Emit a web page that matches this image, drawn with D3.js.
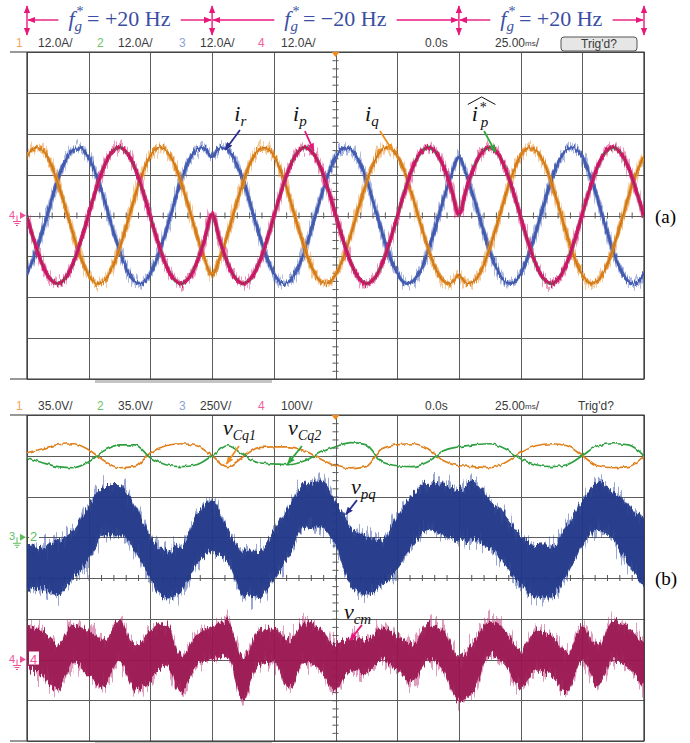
<!DOCTYPE html>
<html>
<head>
<meta charset="utf-8">
<style>
  body { margin: 0; background: #fff; }
  svg { display: block; }
  .hdr { font-family: "Liberation Sans", Arial, sans-serif; font-size: 12px; fill: #3a3a3a; }
  .math { font-family: "Liberation Serif", "DejaVu Serif", serif; }
</style>
</head>
<body>
<svg id="scope" width="690" height="743"></svg>
<script src="https://d3js.org/d3.v7.min.js"></script>
<script>

// ---- data read off the scope screens ----
// panel (a): samples every 1/8 div (3.125 ms), currents in A
var tA = d3.range(81).map(function(i) { return i * 3.125; });

var iq = [17.5,19.9,19.2,15.6,9.6,2.2,-5.6,-12.5,-17.5,-19.9,-19.2,-15.6,-9.6,-2.2,5.6,12.5,
  17.5,19.9,19.2,15.6,9.6,2.2,-5.6,-12.5,-17.5,
  -12.5,-5.6,2.2,9.6,15.6,19.2,19.9,17.5,
  12.5,5.6,-2.2,-9.6,-15.6,-19.2,-19.9,-17.5,
  -12.5,-5.6,2.2,9.6,15.6,19.2,19.9,17.5,
  12.5,5.6,-2.2,-9.6,-15.6,-19.2,-19.9,-17.5,
  -19.9,-19.2,-15.6,-9.6,-2.2,5.6,12.5,
  17.5,19.9,19.2,15.6,9.6,2.2,-5.6,-12.5,-17.5,-19.9,-19.2,-15.6,-9.6,-2.2,5.6,12.5,
  17.5];

var ir = [-17.1,-11.8,-4.7,3.1,10.4,16.1,19.4,19.8,17.1,11.8,4.7,-3.1,-10.4,-16.1,-19.4,-19.8,
  -17.1,-11.8,-4.7,3.1,10.4,16.1,19.4,19.8,17.1,
  19.8,19.4,16.1,10.4,3.1,-4.7,-11.8,-17.1,
  -19.8,-19.4,-16.1,-10.4,-3.1,4.7,11.8,17.1,
  19.8,19.4,16.1,10.4,3.1,-4.7,-11.8,-17.1,
  -19.8,-19.4,-16.1,-10.4,-3.1,4.7,11.8,17.1,
  11.8,4.7,-3.1,-10.4,-16.1,-19.4,-19.8,
  -17.1,-11.8,-4.7,3.1,10.4,16.1,19.4,19.8,17.1,11.8,4.7,-3.1,-10.4,-16.1,-19.4,-19.8,
  -17.1];

var ip = [-0.4,-8.0,-14.4,-18.6,-20.0,-18.3,-13.9,-7.3,0.4,8.0,14.4,18.6,20.0,18.3,13.9,7.3,
  -0.4,-8.0,-14.4,-18.6,-20.0,-18.3,-13.9,-7.3,0.4,
  -7.3,-13.9,-18.3,-20.0,-18.6,-14.4,-8.0,-0.4,
  7.3,13.9,18.3,20.0,18.6,14.4,8.0,0.4,
  -7.3,-13.9,-18.3,-20.0,-18.6,-14.4,-8.0,-0.4,
  7.3,13.9,18.3,20.0,18.6,14.4,8.0,0.4,
  8.0,14.4,18.6,20.0,18.3,13.9,7.3,
  -0.4,-8.0,-14.4,-18.6,-20.0,-18.3,-13.9,-7.3,0.4,8.0,14.4,18.6,20.0,18.3,13.9,7.3,
  -0.4];

// panel (b): samples every 1/4 div (6.25 ms)
var tB = d3.range(41).map(function(i) { return i * 6.25; });

// capacitor voltage ripple, V (35 V/div)
var vCq1 = [2.6,6.0,9.4,10.3,5.2,-4.3,-10.3,-9.4,2.6,8.6,10.3,8.6,0,-9.4,-1,6.9,7.7,7.7,4.3,-2.6,
  -8.6,-11.2,-9.4,6.0,9.4,10.3,6.0,-4.3,-8.6,-9.4,-10.3,-6.0,2.6,8.6,10.3,8.6,0,-8.6,-10.3,-9.4,0];
var vCq2 = [-1.7,-6.0,-9.4,-10.3,-5.2,4.3,9.4,9.4,-1.7,-7.7,-9.4,-7.7,0,8.6,1,-6.0,-6.9,-7.7,-4.3,2.6,
  7.7,11.2,9.4,-5.2,-8.6,-9.4,-5.2,4.3,7.7,9.4,10.3,6.0,-2.6,-7.7,-9.4,-7.7,0,8.6,10.3,9.4,0];

// v_pq band (upper / lower edge), V (250 V/div)
var vpqHi = [-60,-50,-20,45,195,320,320,195,10,-80,-50,135,225,60,-80,-90,45,195,335,350,
  225,60,10,-20,135,260,335,330,290,335,225,135,10,-50,-50,75,225,335,290,195,105];
var vpqLo = [-315,-325,-355,-250,-140,10,10,-80,-265,-375,-335,-170,-90,-155,-355,-370,-265,-110,60,60,
  -50,-295,-355,-295,-200,-50,45,10,-20,-20,-65,-170,-295,-370,-370,-235,-50,45,-20,-170,-295];

// v_cm band (upper / lower edge), V (100 V/div)
var vcmHi = [83,71,39,83,71,47,96,34,71,91,10,59,83,96,5,71,76,47,91,76,
  39,54,47,79,59,39,88,71,5,47,96,71,22,71,59,15,79,34,96,76,39];
var vcmLo = [-22,-39,-76,-7,-39,-64,-2,-76,-52,-15,-83,-15,2,10,-101,-15,-7,-69,-7,-27,
  -76,-27,-32,-2,-27,-59,-2,-27,-101,-76,15,-15,-69,-27,-39,-83,-2,-64,-2,-22,-69];

// scope settings / labels
var chanA = ["12.0A/", "12.0A/", "12.0A/", "12.0A/"];
var chanB = ["35.0V/", "35.0V/", "250V/", "100V/"];
var segEdges = [0, 75, 175, 250];       // ms, frequency reversal instants
var segFreq = ["+20", "\u221220", "+20"];

// ---- layout ----
var svg = d3.select("#scope"),
    plotL = 27, plotR = 644,
    aTop = 52, aBot = 379,
    bTop = 415, bBot = 741;

var xA = d3.scaleLinear().domain([0, 250]).range([plotL, plotR]);
var yA = d3.scaleLinear().domain([-48, 48]).range([aBot, aTop]);   // 12 A/div
var yB = d3.scaleLinear().domain([-4, 4]).range([bBot, bTop]);     // divisions

var defs = svg.append("defs");

// vertical-only jitter, gives the scope traces their noisy look
function noiseFilter(id, freq, scale, seed) {
  var f = defs.append("filter").attr("id", id)
      .attr("x", "-2%").attr("y", "-40%").attr("width", "104%").attr("height", "180%")
      .attr("color-interpolation-filters", "sRGB");
  f.append("feTurbulence").attr("type", "fractalNoise").attr("baseFrequency", freq)
      .attr("numOctaves", 2).attr("seed", seed).attr("result", "t");
  f.append("feColorMatrix").attr("in", "t").attr("type", "matrix")
      .attr("values", "0 0 0 0 0.5  0 1 0 0 0  0 0 0 0 0  0 0 0 0 1").attr("result", "m");
  f.append("feDisplacementMap").attr("in", "SourceGraphic").attr("in2", "m").attr("scale", scale)
      .attr("xChannelSelector", "R").attr("yChannelSelector", "G");
}
noiseFilter("nzWide", "0.7 0.03", 24, 3);
noiseFilter("nzThin", "0.9 0.05", 9, 7);
noiseFilter("nzStep", "0.25 0.05", 4, 11);
noiseFilter("nzBand", "0.45 0.02", 44, 5);
noiseFilter("nzCore", "0.5 0.03", 16, 9);

function arrowMarker(id, color, size) {
  defs.append("marker").attr("id", id).attr("viewBox", "0 0 10 10")
      .attr("refX", 9).attr("refY", 5).attr("markerWidth", size).attr("markerHeight", size)
      .attr("markerUnits", "userSpaceOnUse").attr("orient", "auto-start-reverse")
    .append("path").attr("d", "M0,1 L10,5 L0,9 Z").attr("fill", color);
}
var MAG = "#e8177c", NAVY = "#2a2f8f", ORG = "#ee8f1f", GRN = "#2ea63c";
arrowMarker("amag", MAG, 8);
arrowMarker("anavy", NAVY, 8);
arrowMarker("aorg", ORG, 8);
arrowMarker("agrn", GRN, 8);

defs.append("clipPath").attr("id", "clipA").append("rect")
    .attr("x", plotL).attr("y", aTop).attr("width", plotR - plotL).attr("height", aBot - aTop);
defs.append("clipPath").attr("id", "clipB").append("rect")
    .attr("x", plotL).attr("y", bTop).attr("width", plotR - plotL).attr("height", bBot - bTop);

// ---- screen frame + grid ----
function screen(top, bot, y) {
  var g = svg.append("g");
  var divsX = d3.range(0, 251, 25);
  g.append("g").attr("transform", "translate(0," + bot + ")")
      .call(d3.axisBottom(xA).tickValues(divsX).tickSize(-(bot - top)).tickFormat(""))
      .call(function(s) { s.select(".domain").remove(); })
      .selectAll("line").attr("stroke", "#5c5c5c").attr("shape-rendering", "crispEdges");
  g.append("g").attr("transform", "translate(" + plotL + ",0)")
      .call(d3.axisLeft(y).tickValues(d3.range(y.domain()[0], y.domain()[1] + 0.001, (y.domain()[1] - y.domain()[0]) / 8))
        .tickSize(-(plotR - plotL)).tickFormat(""))
      .call(function(s) { s.select(".domain").remove(); })
      .selectAll("line").attr("stroke", "#5c5c5c").attr("shape-rendering", "crispEdges");

  // minor ticks on the centre lines
  var yc = (top + bot) / 2, xc = xA(125);
  [d3.axisBottom, d3.axisTop].forEach(function(ax) {
    g.append("g").attr("transform", "translate(0," + yc + ")")
        .call(ax(xA).tickValues(d3.range(0, 250.1, 5)).tickSize(3).tickFormat(""))
        .call(function(s) { s.select(".domain").remove(); })
        .selectAll("line").attr("stroke", "#555");
  });
  var step = (y.domain()[1] - y.domain()[0]) / 40;
  [d3.axisLeft, d3.axisRight].forEach(function(ax) {
    g.append("g").attr("transform", "translate(" + xc + ",0)")
        .call(ax(y).tickValues(d3.range(y.domain()[0], y.domain()[1] + 0.001, step)).tickSize(3).tickFormat(""))
        .call(function(s) { s.select(".domain").remove(); })
        .selectAll("line").attr("stroke", "#555");
  });

  // outer frame
  g.append("path").attr("fill", "none").attr("stroke", "#333").attr("stroke-width", 1.2)
      .attr("d", "M10," + top + "H" + plotR + "V" + bot + "H10M" + plotL + "," + top + "V" + bot);
  g.append("rect").attr("x", 95).attr("y", bot + 1).attr("width", 177).attr("height", 3).attr("fill", "#c4c4c4");
  // trigger marker
  g.append("path").attr("fill", "#f08a1c")
      .attr("d", "M" + (xc - 4) + "," + top + "h8l-4,5z");
}
screen(aTop, aBot, yA);
screen(bTop, bBot, yB);

// ---- header lines ----
var chanColors = ["#f4a65a", "#6cc46c", "#8f9fd6", "#f0609f"],
    numX = [16, 97, 179, 258], unitX = [38, 118, 200, 281];

function header(base, units, button) {
  var g = svg.append("g").attr("class", "hdr");
  units.forEach(function(u, k) {
    g.append("text").attr("x", numX[k]).attr("y", base).style("fill", chanColors[k]).text(k + 1);
    g.append("text").attr("x", unitX[k]).attr("y", base).text(u);
  });
  g.append("text").attr("x", 425).attr("y", base).text("0.0s");
  var tb = g.append("text").attr("x", 495).attr("y", base);
  tb.append("tspan").text("25.00");
  tb.append("tspan").style("font-size", "8px").attr("dy", -1).text("ms");
  tb.append("tspan").attr("dy", 1).text("/");
  if (button) {
    g.append("rect").attr("x", 561).attr("y", base - 10).attr("width", 76).attr("height", 14).attr("rx", 3)
        .attr("fill", "#e6e6e6").attr("stroke", "#555");
    g.append("text").attr("x", 599).attr("y", base + 1).attr("text-anchor", "middle").text("Trig'd?");
  } else {
    g.append("text").attr("x", 578).attr("y", base).text("Trig'd?");
  }
}
header(47, chanA, true);
header(410, chanB, false);

// ---- frequency annotation on top ----
var annot = svg.append("g");
segFreq.forEach(function(f, k) {
  var x0 = xA(segEdges[k]), x1 = xA(segEdges[k + 1]);
  var t = annot.append("text").attr("class", "math").attr("y", 26).attr("fill", "#3a4ea3").style("font-size", "22px");
  t.append("tspan").attr("font-style", "italic").text("f");
  t.append("tspan").attr("dy", -10).attr("dx", 2).style("font-size", "14px").text("*");
  t.append("tspan").attr("dy", 15).attr("dx", -9).attr("font-style", "italic").style("font-size", "15px").text("g");
  t.append("tspan").attr("dy", -5).attr("dx", 5).text("= " + f + " Hz");
  var w = t.node().getBBox().width;
  var tx = (x0 + x1) / 2 - w / 2;
  t.attr("x", tx);
  annot.append("line").attr("x1", tx - 10).attr("x2", x0 + 1).attr("y1", 20).attr("y2", 20)
      .attr("stroke", MAG).attr("stroke-width", 1.4).attr("marker-end", "url(#amag)");
  annot.append("line").attr("x1", tx + w + 10).attr("x2", x1 - 1).attr("y1", 20).attr("y2", 20)
      .attr("stroke", MAG).attr("stroke-width", 1.4).attr("marker-end", "url(#amag)");
});
segEdges.forEach(function(e) {
  annot.append("line").attr("x1", xA(e)).attr("x2", xA(e)).attr("y1", 6).attr("y2", 35)
      .attr("stroke", MAG).attr("stroke-width", 1.4)
      .attr("marker-start", "url(#amag)").attr("marker-end", "url(#amag)");
});

// ---- panel (a) traces ----
var plotA = svg.append("g").attr("clip-path", "url(#clipA)");
var lineA = d3.line().x(function(d, i) { return xA(tA[i]); }).y(function(d) { return yA(d); })
    .curve(d3.curveCatmullRom);

function currentTrace(data, color, core) {
  var g = plotA.append("g");
  g.append("path").datum(data).attr("d", lineA).attr("fill", "none").attr("stroke", color)
      .attr("stroke-width", 5).attr("stroke-opacity", 0.45).attr("filter", "url(#nzWide)");
  g.append("path").datum(data).attr("d", lineA).attr("fill", "none").attr("stroke", color)
      .attr("stroke-width", 3.4).attr("filter", "url(#nzThin)");
  g.append("path").datum(data).attr("d", lineA).attr("fill", "none").attr("stroke", core)
      .attr("stroke-width", 0.8).attr("stroke-opacity", 0.5);
}
currentTrace(ir, "#4a63b8", "#2d3d82");
currentTrace(iq, "#e38a24", "#8a4e10");
// reference i_p* lies under the measured i_p
plotA.append("path").datum(ip).attr("d", lineA).attr("fill", "none").attr("stroke", GRN).attr("stroke-width", 3.6);
currentTrace(ip, "#dc1a72", "#6e0c38");

// ---- panel (b) traces ----
var plotB = svg.append("g").attr("clip-path", "url(#clipB)");

function stepLine(data, color, offset, perDiv) {
  var line = d3.line().x(function(d, i) { return xA(tB[i]); })
      .y(function(d) { return yB(offset + d / perDiv); }).curve(d3.curveMonotoneX);
  plotB.append("path").datum(data).attr("d", line).attr("fill", "none").attr("stroke", color)
      .attr("stroke-width", 1.7).attr("filter", "url(#nzStep)");
}
stepLine(vCq1, "#e0801c", 3, 35);
stepLine(vCq2, "#2ea040", 3, 35);

function band(hi, lo, color, light, offset, perDiv) {
  var area = d3.area().x(function(d, i) { return xA(tB[i]); })
      .y0(function(d, i) { return yB(offset + lo[i] / perDiv); })
      .y1(function(d, i) { return yB(offset + hi[i] / perDiv); })
      .curve(d3.curveMonotoneX);
  plotB.append("path").datum(tB).attr("d", area).attr("fill", light)
      .attr("fill-opacity", 0.5).attr("filter", "url(#nzBand)");
  plotB.append("path").datum(tB).attr("d", area).attr("fill", color)
      .attr("fill-opacity", 0.92).attr("filter", "url(#nzCore)");
}
band(vpqHi, vpqLo, "#1f3688", "#3550a8", 1, 250);
band(vcmHi, vcmLo, "#98134f", "#c23a7a", -2, 100);

// ---- ground markers ----
function groundMark(y, num, color, inner) {
  var g = svg.append("g");
  g.append("text").attr("x", 9).attr("y", y + 3).attr("fill", color)
      .style("font", "11px 'Liberation Sans', sans-serif").text(num);
  g.append("path").attr("fill", "none").attr("stroke", color).attr("stroke-width", 1)
      .attr("d", "M17," + y + "V" + (y + 6) + "M13," + (y + 6) + "H21M14.5," + (y + 8) + "H19.5M16," + (y + 10) + "H18");
  g.append("path").attr("fill", color).attr("d", "M20," + (y - 3.5) + "L26," + y + "L20," + (y + 3.5) + "Z");
  if (inner) {
    g.append("rect").attr("x", 29).attr("y", y - 8).attr("width", 10).attr("height", 13).attr("fill", "#fff");
    g.append("text").attr("x", 30).attr("y", y + 4).attr("fill", color)
        .style("font", "13px 'Liberation Sans', sans-serif").text(inner);
  }
}
groundMark(yA(0), "4", "#f0509a", null);
groundMark(yB(1), "3", "#5cbf5c", "2");
groundMark(yB(-2), "4", "#f0509a", "4");

// ---- trace labels ----
function mathLabel(x, y, main, sub, sup) {
  var t = svg.append("text").attr("class", "math").attr("x", x).attr("y", y).attr("fill", "#111")
      .style("font-size", "22px");
  t.append("tspan").attr("font-style", "italic").text(main);
  if (sup) t.append("tspan").attr("dy", -9).attr("dx", 2).style("font-size", "14px").text(sup);
  t.append("tspan").attr("font-style", "italic").attr("dy", sup ? 15 : 5).attr("dx", sup ? -6 : 0)
      .style("font-size", "15px").text(sub);
  return t;
}
function pointer(t0, v0, t1, v1, ys, color, marker) {
  svg.append("line").attr("x1", xA(t0)).attr("y1", ys(v0)).attr("x2", xA(t1)).attr("y2", ys(v1))
      .attr("stroke", color).attr("stroke-width", 1.8).attr("marker-end", "url(#" + marker + ")");
}

mathLabel(xA(84), yA(27.8), "i", "r");
pointer(86.3, 25.1, 80.4, 19.3, yA, NAVY, "anavy");
mathLabel(xA(107.8), yA(27.8), "i", "p");
pointer(112.6, 24.8, 116.2, 19.0, yA, MAG, "amag");
mathLabel(xA(137), yA(27.8), "i", "q");
pointer(143, 24.8, 148.2, 19.0, yA, ORG, "aorg");
mathLabel(xA(180.2), yA(27.8), "i", "p", "*");
svg.append("path").attr("fill", "none").attr("stroke", "#111").attr("stroke-width", 1)
    .attr("d", "M" + xA(178.6) + "," + yA(32.6) + "L" + xA(184.2) + "," + yA(34.8) + "L" + xA(189.8) + "," + yA(32.6));
pointer(185.2, 24.8, 189.8, 18.6, yA, GRN, "agrn");

var lbl = mathLabel(xA(79.4), yB(3.51), "v", "Cq1");
lbl.select("tspan:last-child").style("font-size", "14px");
pointer(85.9, 3.24, 80.8, 2.80, yB, ORG, "aorg");
lbl = mathLabel(xA(105.8), yB(3.51), "v", "Cq2");
lbl.select("tspan:last-child").style("font-size", "14px");
pointer(111.4, 3.24, 105.6, 2.80, yB, GRN, "agrn");
mathLabel(xA(131.3), yB(2.07), "v", "pq");
pointer(133.7, 1.91, 129.2, 1.56, yB, NAVY, "anavy");
mathLabel(xA(128.4), yB(-1.0), "v", "cm");
pointer(135.7, -1.15, 130.9, -1.53, yB, MAG, "amag");

// ---- panel tags ----
svg.append("text").attr("class", "math").attr("x", 655).attr("y", yA(0) + 7).style("font-size", "19px").text("(a)");
svg.append("text").attr("class", "math").attr("x", 655).attr("y", yB(0) + 7).style("font-size", "19px").text("(b)");

</script>
</body>
</html>
